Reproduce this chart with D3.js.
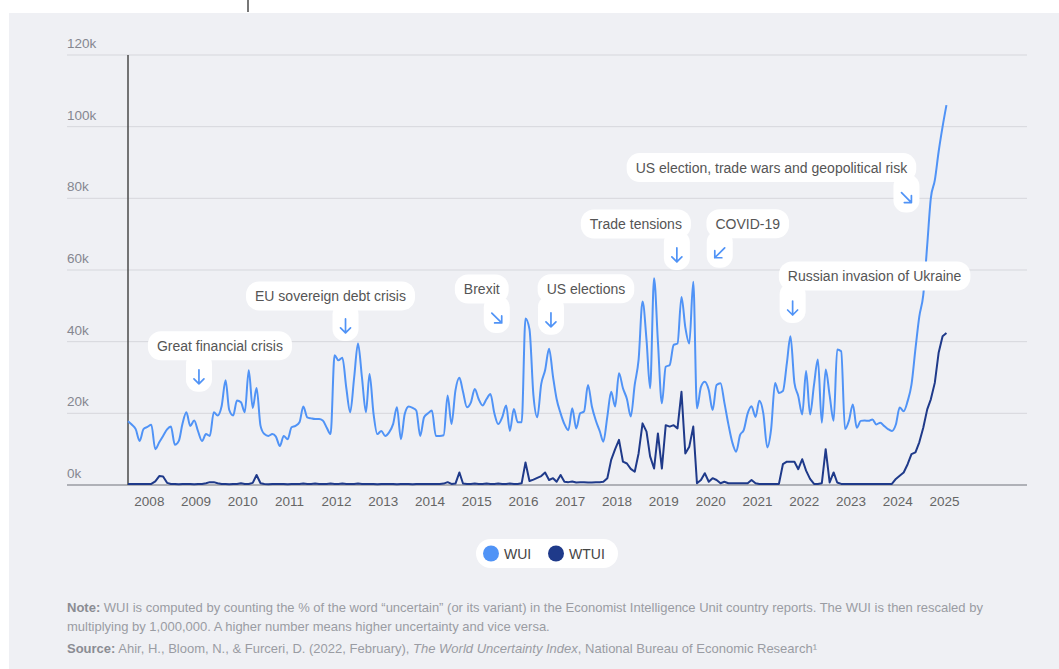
<!DOCTYPE html>
<html>
<head>
<meta charset="utf-8">
<script src="https://cdn.jsdelivr.net/npm/d3@7"></script>
<style>
  html,body{margin:0;padding:0;background:#fff;}
  svg{display:block;font-family:"Liberation Sans",Arial,sans-serif;}
</style>
</head>
<body>
<svg id="chart" width="1059" height="669"></svg>
<script>
// monthly values, Jan 2008 onwards, in thousands
const wui = [
  17.8,16.8,15.6,12.3,15.6,16.2,16.8,10.0,11.9,13.7,
  15.5,16.3,11.2,12.3,17.0,20.3,16.5,18.0,15.0,12.3,
  14.2,13.7,20.3,19.4,22.0,29.2,21.0,19.4,23.6,23.1,
  20.3,32.0,21.5,27.1,16.5,14.2,13.7,14.2,13.5,10.9,
  13.7,12.8,16.1,16.5,17.5,21.9,18.9,18.6,18.4,18.4,
  18.0,16.0,14.2,36.2,34.8,35.5,27.0,20.3,30.0,39.5,
  30.0,20.3,31.0,20.0,14.2,15.1,13.7,14.7,17.0,21.7,
  12.8,19.8,21.9,21.5,20.8,13.7,18.9,20.0,20.8,13.7,
  13.7,13.9,25.0,17.0,26.4,29.9,26.0,21.7,23.0,26.8,
  24.0,22.2,24.0,25.4,20.0,17.0,18.9,22.2,15.1,21.2,
  17.5,17.5,46.5,43.5,25.0,18.9,28.2,32.0,38.0,30.2,
  24.0,20.0,17.0,15.3,21.4,15.8,20.0,20.5,27.9,22.0,
  18.0,15.0,12.1,19.1,26.0,21.9,31.2,27.0,24.0,19.1,
  28.0,34.9,51.2,40.5,27.0,57.7,40.0,22.8,33.0,33.5,
  39.1,39.5,52.5,44.0,39.5,56.7,21.4,27.4,28.8,26.5,
  20.9,27.9,28.4,23.0,17.0,12.0,9.3,14.0,15.3,20.0,
  22.0,19.0,23.5,20.0,10.5,15.6,28.5,25.7,26.2,34.0,
  41.5,28.5,24.8,19.7,31.8,19.7,28.0,35.0,17.4,32.2,
  25.0,17.9,37.8,37.3,15.6,18.0,22.5,16.0,17.9,18.0,
  17.9,18.3,16.9,17.4,16.5,15.6,15.1,16.9,21.6,20.6,
  23.4,28.0,38.0,47.0,53.0,67.0,80.0,85.0,93.0,100.0,106.0
];
const wtui = [
  0.3,0.3,0.3,0.3,0.3,0.3,0.3,1.0,2.5,2.4,
  0.6,0.3,0.3,0.2,0.3,0.3,0.3,0.2,0.3,0.3,
  0.5,0.8,0.8,0.5,0.3,0.3,0.2,0.3,0.3,0.5,
  0.3,0.3,0.6,2.8,0.5,0.3,0.2,0.3,0.3,0.3,
  0.3,0.2,0.3,0.3,0.3,0.4,0.3,0.3,0.4,0.3,
  0.3,0.3,0.4,0.3,0.3,0.4,0.3,0.3,0.3,0.4,
  0.3,0.3,0.3,0.3,0.2,0.3,0.3,0.3,0.3,0.2,
  0.3,0.3,0.3,0.2,0.3,0.3,0.3,0.3,0.3,0.3,
  0.3,0.4,0.8,0.3,0.4,3.5,0.4,0.3,0.3,0.4,
  0.3,0.3,0.4,0.3,0.3,0.4,0.3,0.3,0.4,0.3,
  0.3,0.5,6.3,1.1,1.5,2.0,2.5,3.5,1.4,1.9,
  0.9,2.8,0.9,0.8,1.0,0.7,0.8,0.8,0.7,0.7,
  0.8,0.8,0.9,1.9,7.0,10.0,12.6,6.5,6.0,4.5,
  3.7,8.8,17.2,14.9,8.0,4.6,14.4,4.6,16.7,16.3,
  16.7,15.8,26.0,8.8,10.7,16.3,0.5,1.4,3.3,0.9,
  1.9,1.4,0.5,0.9,0.5,0.5,0.5,0.5,0.5,0.5,
  1.4,0.5,0.3,0.3,0.3,0.3,0.3,0.3,5.8,6.5,
  6.5,6.5,4.4,7.2,4.0,1.7,0.3,0.3,0.5,10.0,
  0.7,3.5,0.7,0.3,0.3,0.3,0.3,0.3,0.3,0.3,
  0.3,0.3,0.3,0.3,0.3,0.3,0.3,1.7,2.6,3.5,
  5.8,8.6,9.1,11.9,16.0,21.1,23.9,28.5,36.9,41.5,42.4
];
const years = d3.range(2008, 2026);
const yTicks = [0, 20, 40, 60, 80, 100, 120];
const seriesNames = ["WUI", "WTUI"];

// annotations: month index + value where the arrow sits
const notes = [
  {label:"Great financial crisis", m:18.2, v:30.2, dir:"down"},
  {label:"EU sovereign debt crisis", m:55.8, v:44.4, dir:"down"},
  {label:"Brexit", m:94.6, v:46.6, dir:"downright"},
  {label:"US elections", m:108.5, v:46.1, dir:"down"},
  {label:"Trade tensions", m:140.8, v:64.2, dir:"down"},
  {label:"COVID-19", m:151.8, v:64.8, dir:"downleft"},
  {label:"Russian invasion of Ukraine", m:170.5, v:49.4, dir:"down"},
  {label:"US election, trade wars and geopolitical risk", m:199.7, v:80.2, dir:"downright"}
];
// label centre offset from the arrow (px)
const noteOffsets = [[21,-31],[-15,-30],[-15,-29],[35,-31],[-41,-31],[28,-29],[82,-32],[-135,-30]];

const BLUE = "#5093f6", NAVY = "#1f3a8a";
const svg = d3.select("#chart");
const t0 = new Date(2008,0,1);
const monthDate = i => d3.timeMonth.offset(t0, i);

const x = d3.scaleTime().domain([t0, new Date(2026,0,1)]).range([128, 970]);
const xm = m => x(t0) + m * (x(new Date(2026,0,1)) - x(t0)) / 216;
const y = d3.scaleLinear().domain([0,120]).range([485, 55]);

// background panel
svg.append("rect").attr("x",9).attr("y",13).attr("width",1050).attr("height",656).attr("fill","#eff0f4");
svg.append("line").attr("x1",248).attr("x2",248).attr("y1",0).attr("y2",12)
  .attr("stroke","#777").attr("stroke-width",2);

// grid + y labels
const grid = svg.append("g");
yTicks.forEach(t => {
  grid.append("line").attr("x1",67).attr("x2",1027).attr("y1",y(t)).attr("y2",y(t))
    .attr("stroke", t===0 ? "#9a9ca3" : "#d6d7dc").attr("stroke-width", t===0 ? 1.5 : 1);
  grid.append("text").attr("x",67).attr("y",y(t)-7).text(t+"k")
    .attr("font-size",13.5).attr("fill","#858790");
});
svg.append("line").attr("x1",128).attr("x2",128).attr("y1",y(120)).attr("y2",y(0))
  .attr("stroke","#4a4a4a").attr("stroke-width",1.5);

// x axis
const xAxis = d3.axisBottom(x)
  .tickValues(years.map(yr => new Date(yr,5,12)))
  .tickFormat(d3.timeFormat("%Y")).tickSize(0).tickPadding(0);
const gx = svg.append("g").attr("transform","translate(0,496)").call(xAxis);
gx.select(".domain").remove();
gx.selectAll("text").attr("font-size",13.5).attr("fill","#666")
  .attr("font-family","Liberation Sans, Arial, sans-serif");

// lines
const lineWTUI = d3.line().x((d,i)=>x(monthDate(i))).y(d=>y(d)).curve(d3.curveLinear);
const lineWUI  = d3.line().x((d,i)=>x(monthDate(i))).y(d=>y(d)).curve(d3.curveMonotoneX);
svg.append("path").datum(wtui).attr("d",lineWTUI).attr("fill","none")
  .attr("stroke",NAVY).attr("stroke-width",2).attr("stroke-linejoin","round");
svg.append("path").datum(wui).attr("d",lineWUI).attr("fill","none")
  .attr("stroke",BLUE).attr("stroke-width",2).attr("stroke-linejoin","round");

// annotations
const gA = svg.append("g");
notes.forEach((n,i) => {
  const ax = xm(n.m), ay = y(n.v);
  const tx = ax + noteOffsets[i][0], ty = ay + noteOffsets[i][1];
  const g = gA.append("g");
  const txt = g.append("text").attr("x",tx).attr("y",ty+5).attr("text-anchor","middle")
    .attr("font-size",14).attr("fill","#555").text(n.label);
  const w = txt.node().getComputedTextLength();
  const bx = tx - w/2 - 9, bw = w + 18, by = ty - 14.5, bh = 29;
  g.insert("rect","text").attr("x",bx).attr("y",by).attr("width",bw).attr("height",bh)
    .attr("rx",13).attr("fill","#fff");
  g.insert("rect","text").attr("x",ax-13).attr("y",by+bh-8).attr("width",26)
    .attr("height",ay+15-(by+bh-8)).attr("rx",12).attr("fill","#fff");
  const rot = n.dir==="down" ? 0 : (n.dir==="downleft" ? 45 : -45);
  g.append("path").attr("transform",`translate(${ax},${ay}) rotate(${rot})`)
    .attr("d","M0,-7L0,7M-5,2L0,7L5,2").attr("fill","none")
    .attr("stroke",BLUE).attr("stroke-width",1.7).attr("stroke-linecap","round").attr("stroke-linejoin","round");
});

// legend
const lg = svg.append("g");
lg.append("rect").attr("x",476).attr("y",539).attr("width",142).attr("height",29).attr("rx",14.5).attr("fill","#fff");
[[491,BLUE],[556,NAVY]].forEach((c,i) => {
  lg.append("circle").attr("cx",c[0]).attr("cy",553.5).attr("r",8).attr("fill",c[1]);
  lg.append("text").attr("x",c[0]+13).attr("y",558.5).attr("font-size",14).attr("fill","#444").text(seriesNames[i]);
});

// footnotes
const fn = svg.append("g").attr("font-size",13).attr("fill","#9a9ca3");
const l1 = fn.append("text").attr("x",67).attr("y",612);
l1.append("tspan").attr("font-weight","bold").attr("fill","#8a8c93").text("Note:");
l1.append("tspan").text(" WUI is computed by counting the % of the word \u201cuncertain\u201d (or its variant) in the Economist Intelligence Unit country reports. The WUI is then rescaled by");
fn.append("text").attr("x",67).attr("y",631).text("multiplying by 1,000,000. A higher number means higher uncertainty and vice versa.");
const l3 = fn.append("text").attr("x",67).attr("y",653);
l3.append("tspan").attr("font-weight","bold").attr("fill","#8a8c93").text("Source:");
l3.append("tspan").text(" Ahir, H., Bloom, N., & Furceri, D. (2022, February), ");
l3.append("tspan").attr("font-style","italic").text("The World Uncertainty Index");
l3.append("tspan").text(", National Bureau of Economic Research\u00b9");
</script>
</body>
</html>
